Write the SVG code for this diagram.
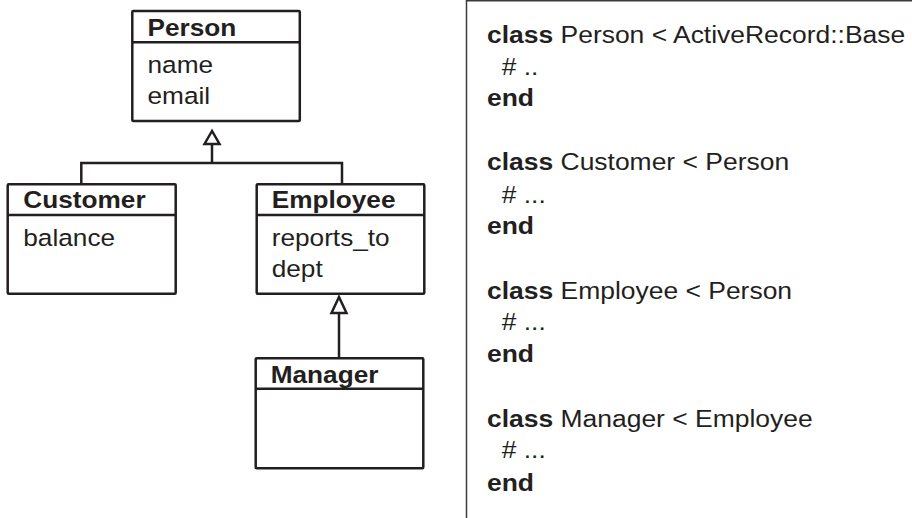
<svg xmlns="http://www.w3.org/2000/svg" width="912" height="518" viewBox="0 0 912 518">
<defs>
<style>
.box{fill:#fff;stroke:#231f20;stroke-width:2.5}
.ln{fill:none;stroke:#231f20;stroke-width:2.5}
.tri{fill:#fff;stroke:#231f20;stroke-width:2.5;stroke-linejoin:miter}
text{font-family:"Liberation Sans",Arial,Helvetica,sans-serif;font-size:24.5px;fill:#231f20}
.b{font-weight:bold}
.panel{fill:none;stroke:#3a3a3a;stroke-width:1.5}
</style>
</defs>
<rect width="912" height="518" fill="#fff"/>
<g id="connectors">
<polyline class="ln" points="212,144 212,163"/>
<polyline class="ln" points="81.3,184 81.3,163 342,163 342,184"/>
<polygon class="tri" points="212,131 204.5,144 219.5,144"/>
<polyline class="ln" points="339,313 339,358"/>
<polygon class="tri" points="339,297 331.5,313 346.5,313"/>
</g>
<g id="person">
<rect class="box" x="132.3" y="11" width="167.5" height="110" rx="1"/>
<line class="ln" x1="132.3" y1="42.3" x2="299.8" y2="42.3"/>
<text class="b" transform="translate(147.5,36) scale(1.07,1)">Person</text>
<text transform="translate(147.5,72.7) scale(1.07,1)">name</text>
<text transform="translate(147.5,103.5) scale(1.07,1)">email</text>
</g>
<g id="customer">
<rect class="box" x="7.7" y="184.3" width="168" height="109.4" rx="1"/>
<line class="ln" x1="7.7" y1="215" x2="175.7" y2="215"/>
<text class="b" transform="translate(23.3,208) scale(1.07,1)">Customer</text>
<text transform="translate(23.3,245.7) scale(1.07,1)">balance</text>
</g>
<g id="employee">
<rect class="box" x="256.7" y="184.3" width="167.6" height="109.4" rx="1"/>
<line class="ln" x1="256.7" y1="215" x2="424.3" y2="215"/>
<text class="b" transform="translate(271.7,208) scale(1.07,1)">Employee</text>
<text transform="translate(271.7,245.7) scale(1.07,1)">reports_to</text>
<text transform="translate(271.7,276.7) scale(1.07,1)">dept</text>
</g>
<g id="manager">
<rect class="box" x="255.7" y="358.3" width="167.6" height="110" rx="1"/>
<line class="ln" x1="255.7" y1="388.7" x2="423.3" y2="388.7"/>
<text class="b" transform="translate(270.7,383) scale(1.07,1)">Manager</text>
</g>
<g id="code">
<polyline class="panel" points="466.5,518 466.5,0.75 912,0.75"/>
<text transform="translate(487,42.5) scale(1.08,1)"><tspan class="b">class</tspan> Person &lt; ActiveRecord::Base</text>
<text transform="translate(501.7,74.5) scale(1.08,1)"># ..</text>
<text class="b" transform="translate(487,106) scale(1.08,1)">end</text>
<text transform="translate(487,169.5) scale(1.08,1)"><tspan class="b">class</tspan> Customer &lt; Person</text>
<text transform="translate(501.7,202.5) scale(1.08,1)"># ...</text>
<text class="b" transform="translate(487,234) scale(1.08,1)">end</text>
<text transform="translate(487,298.5) scale(1.08,1)"><tspan class="b">class</tspan> Employee &lt; Person</text>
<text transform="translate(501.7,330) scale(1.08,1)"># ...</text>
<text class="b" transform="translate(487,362) scale(1.08,1)">end</text>
<text transform="translate(487,427) scale(1.08,1)"><tspan class="b">class</tspan> Manager &lt; Employee</text>
<text transform="translate(501.7,458) scale(1.08,1)"># ...</text>
<text class="b" transform="translate(487,491) scale(1.08,1)">end</text>
</g>
</svg>
